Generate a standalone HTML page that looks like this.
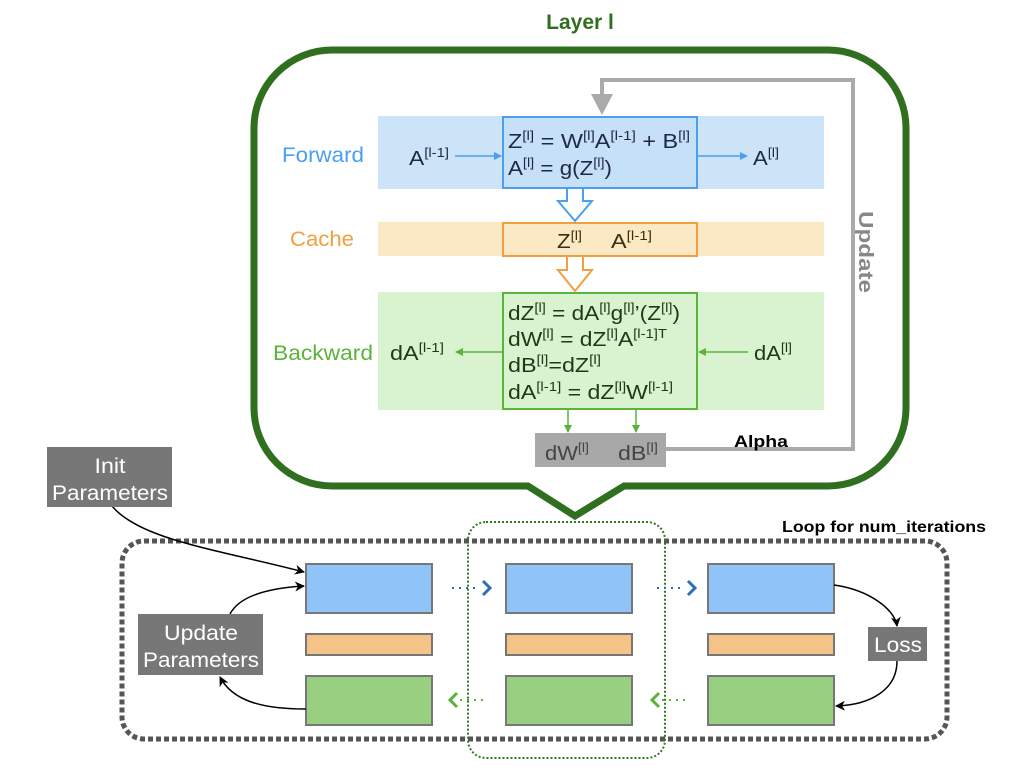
<!DOCTYPE html>
<html><head><meta charset="utf-8"><style>
body{margin:0;background:#fff}
svg text{font-family:"Liberation Sans",sans-serif}
</style></head><body>
<svg width="1024" height="768" viewBox="0 0 1024 768" xmlns="http://www.w3.org/2000/svg">
<defs>
<marker id="ab" markerWidth="8" markerHeight="8" refX="7" refY="4" orient="auto" markerUnits="userSpaceOnUse"><path d="M0,0 L8,4 L0,8z" fill="#4a9ff0"/></marker>
<marker id="ag" markerWidth="8" markerHeight="8" refX="7" refY="4" orient="auto" markerUnits="userSpaceOnUse"><path d="M0,0 L8,4 L0,8z" fill="#5ab43a"/></marker>
<marker id="ak" markerWidth="10" markerHeight="10" refX="9" refY="5" orient="auto" markerUnits="userSpaceOnUse"><path d="M0,0 L10,5 L0,10 L3,5z" fill="#000"/></marker>
</defs>
<text x="580" y="29" text-anchor="middle" font-size="21" font-weight="bold" fill="#2f6f1f">Layer l</text>
<path d="M332,50 H828 A78,78 0 0 1 906,128 V408 A78,78 0 0 1 828,486 H624 L575,516 L528,486 H332 A78,78 0 0 1 254,408 V128 A78,78 0 0 1 332,50 Z" fill="#fff" stroke="#2f6f1f" stroke-width="7"/>
<rect x="378" y="116" width="446" height="73" fill="#cce3f8"/>
<rect x="378" y="222" width="446" height="34" fill="#fbe9c5"/>
<rect x="378" y="292" width="446" height="118" fill="#d9f2d0"/>
<rect x="503" y="117" width="194" height="71" fill="#c6e0f8" stroke="#4a9ff0" stroke-width="2"/>
<rect x="503" y="223" width="194" height="33" fill="#fbe9c5" stroke="#f0a040" stroke-width="2"/>
<rect x="503" y="293" width="194" height="116" fill="#d9f2d0" stroke="#5ab43a" stroke-width="2"/>
<path d="M567,189 V201 H558 L575,221 L592,201 H583 V189" fill="#fff" stroke="#4a9ff0" stroke-width="2"/>
<path d="M567,257 V270 H558 L575,291 L592,270 H583 V257" fill="#fff" stroke="#f0a040" stroke-width="2"/>
<text x="282" y="162" font-size="21" fill="#4a9ff0" textLength="82" lengthAdjust="spacingAndGlyphs">Forward</text>
<text x="290" y="246" font-size="21" fill="#f0a040" textLength="64" lengthAdjust="spacingAndGlyphs">Cache</text>
<text x="273" y="360" font-size="21" fill="#5ab43a" textLength="100" lengthAdjust="spacingAndGlyphs">Backward</text>
<g font-size="20" fill="#1e2a45">
<text x="409" y="165" textLength="40" lengthAdjust="spacingAndGlyphs">A<tspan font-size="13" dy="-8">[l-1]</tspan></text>
<line x1="455" y1="156" x2="501" y2="156" stroke="#4a9ff0" stroke-width="1.5" marker-end="url(#ab)"/>
<line x1="698" y1="156" x2="747" y2="156" stroke="#4a9ff0" stroke-width="1.5" marker-end="url(#ab)"/>
<text x="753" y="165" textLength="26" lengthAdjust="spacingAndGlyphs">A<tspan font-size="13" dy="-8">[l]</tspan></text>
<text x="508" y="148" textLength="182" lengthAdjust="spacingAndGlyphs">Z<tspan font-size="13" dy="-8">[l]</tspan><tspan dy="8"> = W</tspan><tspan font-size="13" dy="-8">[l]</tspan><tspan dy="8">A</tspan><tspan font-size="13" dy="-8">[l-1]</tspan><tspan dy="8"> + B</tspan><tspan font-size="13" dy="-8">[l]</tspan></text>
<text x="508" y="175" textLength="104" lengthAdjust="spacingAndGlyphs">A<tspan font-size="13" dy="-8">[l]</tspan><tspan dy="8"> = g(Z</tspan><tspan font-size="13" dy="-8">[l]</tspan><tspan dy="8">)</tspan></text>
</g>
<g font-size="20" fill="#3a3010">
<text x="557" y="248" textLength="25" lengthAdjust="spacingAndGlyphs">Z<tspan font-size="13" dy="-8">[l]</tspan></text>
<text x="611" y="248" textLength="41" lengthAdjust="spacingAndGlyphs">A<tspan font-size="13" dy="-8">[l-1]</tspan></text>
</g>
<g font-size="20" fill="#1f3a12">
<text x="508" y="320" textLength="172" lengthAdjust="spacingAndGlyphs">dZ<tspan font-size="13" dy="-8">[l]</tspan><tspan dy="8"> = dA</tspan><tspan font-size="13" dy="-8">[l]</tspan><tspan dy="8">g</tspan><tspan font-size="13" dy="-8">[l]</tspan><tspan dy="8">’(Z</tspan><tspan font-size="13" dy="-8">[l]</tspan><tspan dy="8">)</tspan></text>
<text x="508" y="346" textLength="159" lengthAdjust="spacingAndGlyphs">dW<tspan font-size="13" dy="-8">[l]</tspan><tspan dy="8"> = dZ</tspan><tspan font-size="13" dy="-8">[l]</tspan><tspan dy="8">A</tspan><tspan font-size="13" dy="-8">[l-1]T</tspan></text>
<text x="508" y="372" textLength="93" lengthAdjust="spacingAndGlyphs">dB<tspan font-size="13" dy="-8">[l]</tspan><tspan dy="8">=dZ</tspan><tspan font-size="13" dy="-8">[l]</tspan></text>
<text x="508" y="399" textLength="165" lengthAdjust="spacingAndGlyphs">dA<tspan font-size="13" dy="-8">[l-1]</tspan><tspan dy="8"> = dZ</tspan><tspan font-size="13" dy="-8">[l]</tspan><tspan dy="8">W</tspan><tspan font-size="13" dy="-8">[l-1]</tspan></text>
<text x="390" y="360" textLength="54" lengthAdjust="spacingAndGlyphs">dA<tspan font-size="13" dy="-8">[l-1]</tspan></text>
<text x="754" y="360" textLength="38" lengthAdjust="spacingAndGlyphs">dA<tspan font-size="13" dy="-8">[l]</tspan></text>
</g>
<line x1="502" y1="352" x2="456" y2="352" stroke="#5ab43a" stroke-width="1.5" marker-end="url(#ag)"/>
<line x1="748" y1="352" x2="699" y2="352" stroke="#5ab43a" stroke-width="1.5" marker-end="url(#ag)"/>
<line x1="568" y1="410" x2="568" y2="432" stroke="#5ab43a" stroke-width="1.5" marker-end="url(#ag)"/>
<line x1="636" y1="410" x2="636" y2="432" stroke="#5ab43a" stroke-width="1.5" marker-end="url(#ag)"/>
<rect x="535" y="433" width="131" height="34" fill="#a8a8a8"/>
<text x="545" y="460" font-size="20" fill="#444" textLength="44" lengthAdjust="spacingAndGlyphs">dW<tspan font-size="13" dy="-8">[l]</tspan></text>
<text x="618" y="460" font-size="20" fill="#444" textLength="40" lengthAdjust="spacingAndGlyphs">dB<tspan font-size="13" dy="-8">[l]</tspan></text>
<path d="M666,449 H853 V80 H602 V100" fill="none" stroke="#aaa" stroke-width="4"/>
<path d="M591,94 L613,94 L602,115 Z" fill="#aaa"/>
<text x="734" y="447" font-size="17" font-weight="bold" fill="#000" textLength="54" lengthAdjust="spacingAndGlyphs">Alpha</text>
<text transform="translate(859,211) rotate(90)" font-size="20" font-weight="bold" fill="#888" textLength="82" lengthAdjust="spacingAndGlyphs">Update</text>
<text x="782" y="532" font-size="16" font-weight="bold" fill="#000" textLength="204" lengthAdjust="spacingAndGlyphs">Loop for num_iterations</text>
<rect x="122" y="541" width="825" height="198" rx="22" fill="none" stroke="#555" stroke-width="5" stroke-dasharray="5 3"/>
<rect x="468" y="522" width="197" height="236" rx="18" fill="none" stroke="#2f7a1f" stroke-width="2" stroke-dasharray="2 2"/>
<g stroke="#777" stroke-width="2">
<rect x="306" y="564" width="126" height="49" fill="#90c4f8"/>
<rect x="506" y="564" width="126" height="49" fill="#90c4f8"/>
<rect x="708" y="564" width="126" height="49" fill="#90c4f8"/>
<rect x="306" y="634" width="126" height="21" fill="#f5c287"/>
<rect x="506" y="634" width="126" height="21" fill="#f5c287"/>
<rect x="708" y="634" width="126" height="21" fill="#f5c287"/>
<rect x="306" y="676" width="126" height="49" fill="#98cf80"/>
<rect x="506" y="676" width="126" height="49" fill="#98cf80"/>
<rect x="708" y="676" width="126" height="49" fill="#98cf80"/>
</g>
<g fill="none" stroke-width="2">
<path d="M452,588 H480" stroke="#2a6fb8" stroke-dasharray="2 5"/>
<path d="M483,581 L490,588 L483,595" stroke="#2a6fb8" stroke-width="3"/>
<path d="M657,588 H685" stroke="#2a6fb8" stroke-dasharray="2 5"/>
<path d="M688,581 L695,588 L688,595" stroke="#2a6fb8" stroke-width="3"/>
<path d="M460,700 H488" stroke="#5ab43a" stroke-dasharray="2 5"/>
<path d="M457,693 L450,700 L457,707" stroke="#5ab43a" stroke-width="3"/>
<path d="M662,700 H690" stroke="#5ab43a" stroke-dasharray="2 5"/>
<path d="M659,693 L652,700 L659,707" stroke="#5ab43a" stroke-width="3"/>
</g>
<g fill="none" stroke="#000" stroke-width="1.5">
<path d="M112,506 C140,540 220,550 304,572" marker-end="url(#ak)"/>
<path d="M230,614 C240,595 270,588 304,586" marker-end="url(#ak)"/>
<path d="M306,709 C260,709 232,700 220,677" marker-end="url(#ak)"/>
<path d="M834,585 C870,590 895,610 897,626" marker-end="url(#ak)"/>
<path d="M897,661 C897,690 870,705 836,706" marker-end="url(#ak)"/>
</g>
<rect x="47" y="447" width="125" height="60" fill="#777"/>
<text x="110" y="473" text-anchor="middle" font-size="21" fill="#fff" textLength="31" lengthAdjust="spacingAndGlyphs">Init</text>
<text x="110" y="500" text-anchor="middle" font-size="21" fill="#fff" textLength="116" lengthAdjust="spacingAndGlyphs">Parameters</text>
<rect x="138" y="614" width="125" height="61" fill="#777"/>
<text x="201" y="640" text-anchor="middle" font-size="21" fill="#fff" textLength="74" lengthAdjust="spacingAndGlyphs">Update</text>
<text x="201" y="667" text-anchor="middle" font-size="21" fill="#fff" textLength="116" lengthAdjust="spacingAndGlyphs">Parameters</text>
<rect x="868" y="627" width="59" height="34" fill="#777"/>
<text x="898" y="652" text-anchor="middle" font-size="21" fill="#fff" textLength="48" lengthAdjust="spacingAndGlyphs">Loss</text>
</svg>
</body></html>
